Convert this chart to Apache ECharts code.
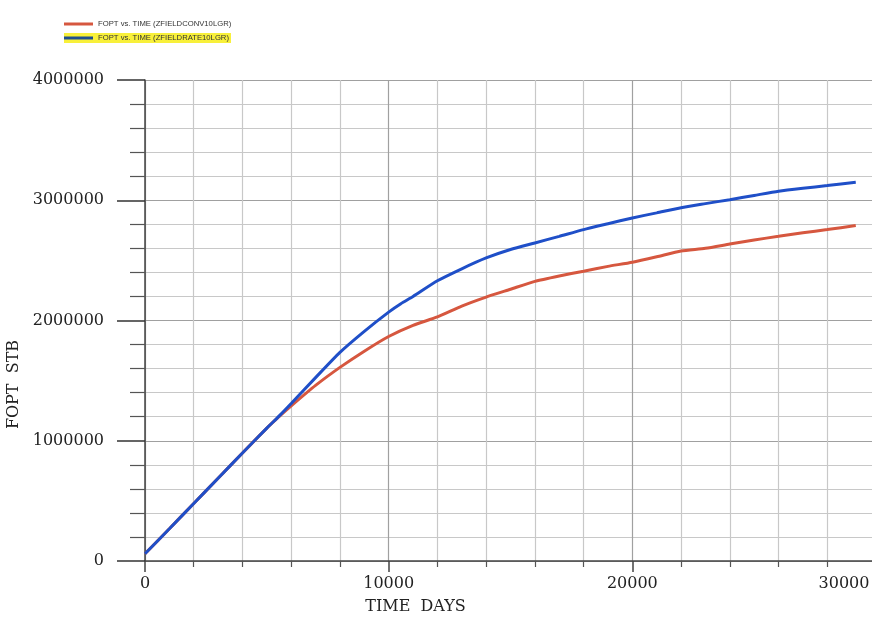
<!DOCTYPE html>
<html>
<head>
<meta charset="utf-8">
<script src="https://cdn.jsdelivr.net/npm/echarts@6/dist/echarts.min.js"></script>
<style>
html,body{margin:0;padding:0;background:#fff;}
#chart{width:872px;height:617px;}
</style>
</head>
<body>
<div id="chart"></div>
<script>
// Time (days) and FOPT (STB)
const convTime = [0,1000,2000,3000,4000,5000,5500,6000,7000,8000,9000,10000,11000,12000,13000,14000,15000,16000,17000,18000,19000,20000,21000,22000,23000,24000,25000,26000,27000,28000,29170];
const convFopt = [60000,268000,478000,688000,898000,1105000,1200000,1290000,1460000,1610000,1745000,1867000,1960000,2030000,2120000,2195000,2260000,2325000,2370000,2410000,2450000,2485000,2530000,2578000,2600000,2636000,2670000,2700000,2730000,2756000,2790000];
const rateTime = [0,1000,2000,3000,4000,5000,5500,6000,7000,8000,9000,10000,10500,11000,12000,13000,14000,15000,16000,17000,18000,19000,20000,21000,22000,23000,24000,25000,26000,27000,28000,29170];
const rateFopt = [60000,268000,478000,688000,898000,1105000,1205000,1310000,1525000,1735000,1910000,2070000,2140000,2200000,2330000,2430000,2520000,2590000,2645000,2700000,2756000,2805000,2853000,2895000,2938000,2972000,3005000,3040000,3075000,3100000,3122000,3150000];
const seriesNames = ['FOPT vs. TIME (ZFIELDCONV10LGR)', 'FOPT vs. TIME (ZFIELDRATE10LGR)'];
const xTicks = [0, 10000, 20000, 30000];
const yTicks = [0, 1000000, 2000000, 3000000, 4000000];
const xTitle = 'TIME  DAYS';
const yTitle = 'FOPT  STB';

const zip = (a, b) => a.map((v, i) => [v, b[i]]);
const serif = 'DejaVu Serif';
const chart = echarts.init(document.getElementById('chart'), null, {renderer: 'canvas'});
chart.setOption({
  backgroundColor: '#ffffff',
  animation: false,
  legend: [
    {
      data: [seriesNames[0]], left: 64, top: 20, orient: 'vertical',
      icon: 'rect', itemWidth: 29, itemHeight: 3, padding: [0, 2, 0, 0],
      textStyle: {fontFamily: 'Liberation Sans', fontSize: 7.7, color: '#333'}
    },
    {
      data: [seriesNames[1]], left: 64, top: 33, orient: 'vertical',
      icon: 'rect', itemWidth: 29, itemHeight: 3, padding: [1, 2, 1, 0],
      backgroundColor: '#f8f03a',
      textStyle: {fontFamily: 'Liberation Sans', fontSize: 7.7, color: '#333'}
    }
  ],
  grid: {left: 145, top: 80, right: -4, bottom: 56, outerBoundsMode: 'none', containLabel: false},
  xAxis: {
    type: 'value', min: xTicks[0], max: xTicks[xTicks.length - 1], interval: 10000,
    name: xTitle, nameLocation: 'middle', nameGap: 38,
    nameTextStyle: {fontFamily: serif, fontSize: 16, color: '#222', padding: [0, 190, 0, 0]},
    axisLine: {show: true, lineStyle: {color: '#444', width: 1.5}},
    axisTick: {show: true, length: 11, lineStyle: {color: '#444', width: 1.5}},
    minorTick: {show: true, splitNumber: 5, length: 6, lineStyle: {color: '#555', width: 1.2}},
    axisLabel: {
      margin: 15, fontFamily: serif, fontSize: 16, color: '#222',
      formatter: v => v === xTicks[xTicks.length - 1] ? '{s|' + v + '}' : String(v),
      rich: {s: {fontFamily: serif, fontSize: 16, color: '#222', padding: [0, 64, 0, 0]}}
    },
    splitLine: {show: true, lineStyle: {color: '#a0a0a0', width: 1.2}},
    minorSplitLine: {show: true, lineStyle: {color: '#c8c8c8', width: 1.2}}
  },
  yAxis: {
    type: 'value', min: yTicks[0], max: yTicks[yTicks.length - 1], interval: 1000000,
    name: yTitle, nameLocation: 'middle', nameGap: 115, nameRotate: 90,
    nameTextStyle: {fontFamily: serif, fontSize: 16, color: '#222', padding: [0, 128, 0, 0]},
    axisLine: {show: true, lineStyle: {color: '#444', width: 1.5}},
    axisTick: {show: true, length: 28, lineStyle: {color: '#333', width: 1.5}},
    minorTick: {show: true, splitNumber: 5, length: 15, lineStyle: {color: '#555', width: 1.2}},
    axisLabel: {margin: 41, fontFamily: serif, fontSize: 16, color: '#222', formatter: v => String(v)},
    splitLine: {show: true, lineStyle: {color: '#a0a0a0', width: 1.2}},
    minorSplitLine: {show: true, lineStyle: {color: '#c8c8c8', width: 1.2}}
  },
  series: [
    {
      name: seriesNames[0], type: 'line', data: zip(convTime, convFopt),
      showSymbol: false, smooth: 0.2, lineStyle: {color: '#d6573f', width: 3}, itemStyle: {color: '#d6573f'}, z: 2
    },
    {
      name: seriesNames[1], type: 'line', data: zip(rateTime, rateFopt),
      showSymbol: false, smooth: 0.2, lineStyle: {color: '#1f4fc8', width: 3}, itemStyle: {color: '#1f4f8f'}, z: 3
    }
  ]
});
</script>
</body>
</html>
